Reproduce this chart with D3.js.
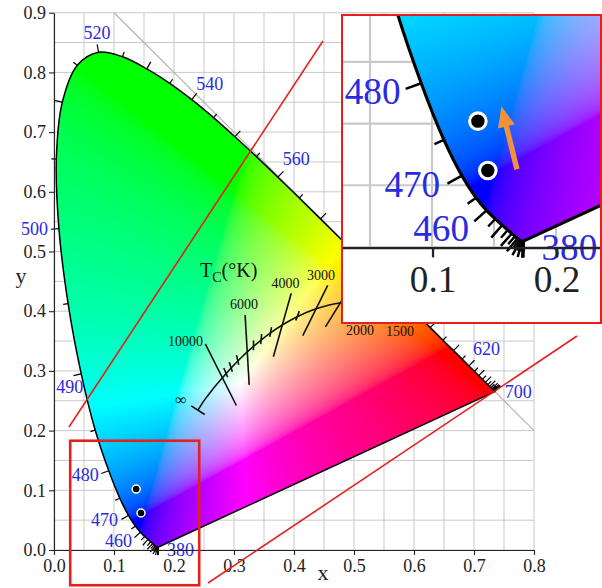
<!DOCTYPE html>
<html>
<head>
<meta charset="utf-8">
<script src="https://cdn.jsdelivr.net/npm/d3@7"></script>
<style>
  html, body { margin: 0; padding: 0; background: #fff; }
  svg { display: block; }
  text { font-family: "Liberation Serif", "Times New Roman", serif; }
</style>
</head>
<body>
<svg id="chart" width="602" height="588"></svg>
<script>
// CIE 1931 2° spectral locus, 5 nm steps
const wavelengths = [380,385,390,395,400,405,410,415,420,425,430,435,440,445,450,455,460,465,470,475,
  480,485,490,495,500,505,510,515,520,525,530,535,540,545,550,555,560,565,570,575,
  580,585,590,595,600,605,610,615,620,625,630,635,640,645,650,655,660,665,670,675,
  680,685,690,695,700];
const locusX = [0.1741,0.1740,0.1738,0.1736,0.1733,0.1730,0.1726,0.1721,0.1714,0.1703,0.1689,0.1669,0.1644,0.1611,0.1566,0.1510,0.1440,0.1355,0.1241,0.1096,
  0.0913,0.0687,0.0454,0.0235,0.0082,0.0039,0.0139,0.0389,0.0743,0.1142,0.1547,0.1929,0.2296,0.2658,0.3016,0.3373,0.3731,0.4087,0.4441,0.4788,
  0.5125,0.5448,0.5752,0.6029,0.6270,0.6482,0.6658,0.6801,0.6915,0.7006,0.7079,0.7140,0.7190,0.7230,0.7260,0.7283,0.7300,0.7311,0.7320,0.7327,
  0.7334,0.7340,0.7344,0.7346,0.7347];
const locusY = [0.0050,0.0050,0.0049,0.0049,0.0048,0.0048,0.0048,0.0048,0.0051,0.0058,0.0069,0.0086,0.0109,0.0138,0.0177,0.0227,0.0297,0.0399,0.0578,0.0868,
  0.1327,0.2007,0.2950,0.4127,0.5384,0.6548,0.7502,0.8120,0.8338,0.8262,0.8059,0.7816,0.7543,0.7243,0.6923,0.6589,0.6245,0.5896,0.5547,0.5202,
  0.4866,0.4544,0.4242,0.3965,0.3725,0.3514,0.3340,0.3197,0.3083,0.2993,0.2920,0.2859,0.2809,0.2770,0.2740,0.2717,0.2700,0.2689,0.2680,0.2673,
  0.2666,0.2660,0.2656,0.2654,0.2653];
const labeledWavelengths = [380,460,470,480,490,500,520,540,560,580,600,620,700];

// Planckian locus (colour temperature in K)
const planckT = [1500,2000,2500,3000,3500,4000,4500,5000,5500,6000,6500,7000,8000,9000,10000,12000,15000,20000,30000,Infinity];
const planckX = [0.5857,0.5267,0.4770,0.4369,0.4053,0.3805,0.3608,0.3451,0.3325,0.3221,0.3135,0.3064,0.2952,0.2869,0.2807,0.2718,0.2637,0.2565,0.2501,0.2399];
const planckY = [0.3931,0.4133,0.4137,0.4041,0.3907,0.3768,0.3636,0.3516,0.3411,0.3318,0.3237,0.3166,0.3048,0.2956,0.2884,0.2779,0.2682,0.2589,0.2502,0.2342];
const isothermT = [10000,6000,4000,3000,2500,2000,1500];
const isothermLabels = [10000,6000,4000,3000,2000,1500];
const minorTickT = [9000,8000,7000,5500,5000,4500,3500];

// measured sample points
const sampleX = [0.137, 0.145];
const sampleY = [0.102, 0.062];

// annotation lines (x1, y1, x2, y2)
const redLineX1 = [0.025, 0.2567];
const redLineY1 = [0.206, -0.0553];
const redLineX2 = [0.4483, 0.8717];
const redLineY2 = [0.8526, 0.3585];

// magnified window [x0, x1, y0, y1] and shift arrow [x tail, y tail, x head, y head]
const zoomWindow = [0.027, 0.242, -0.059, 0.183];
const shiftArrow = [0.1685, 0.063, 0.156, 0.114];

const xTicks = [0, 0.1, 0.2, 0.3, 0.4, 0.5, 0.6, 0.7, 0.8];
const yTicks = [0, 0.1, 0.2, 0.3, 0.4, 0.5, 0.6, 0.7, 0.8, 0.9];
const gridStep = 0.05;

// ---------------------------------------------------------------
const svg = d3.select('#chart');
const xs = d3.scaleLinear().domain([0, 0.8]).range([54, 534]);
const ys = d3.scaleLinear().domain([0, 0.9]).range([550, 12.7]);

const BLUE = '#2a2ae0';
const RED = '#e3201c';

const locus = wavelengths.map((w, i) => ({ w, x: locusX[i], y: locusY[i] }));
const locusPath = d3.line().x(d => xs(d.x)).y(d => ys(d.y)).curve(d3.curveCatmullRom.alpha(0.5))(locus) + 'Z';

const defs = svg.append('defs');
defs.append('clipPath').attr('id', 'gamutClip')
  .attr('clipPathUnits', 'userSpaceOnUse')
  .append('path').attr('d', locusPath);

// --- chromaticity colour field ---------------------------------
function xyToRGB(x, y) {
  const X = x / y, Y = 1, Z = (1 - x - y) / y;
  let r = 3.2406 * X - 1.5372 * Y - 0.4986 * Z;
  let g = -0.9689 * X + 1.8758 * Y + 0.0415 * Z;
  let b = 0.0557 * X - 0.2040 * Y + 1.0570 * Z;
  // channel balance of the display palette
  r = Math.max(0, r * 1.05);
  g = Math.max(0, g * 1.65);
  b = Math.max(0, b);
  const m = Math.max(r, g, b) || 1;
  const enc = c => {
    c /= m;
    return c <= 0.0031308 ? 12.92 * c : 1.055 * Math.pow(c, 1 / 2.4) - 0.055;
  };
  return [enc(r), enc(g), enc(b)];
}

const RES = 1000;
const cw = Math.round(0.8 * RES), ch = Math.round(0.9 * RES);
const canvas = document.createElement('canvas');
canvas.width = cw; canvas.height = ch;
const ctx = canvas.getContext('2d');
const imgData = ctx.createImageData(cw, ch);
for (let j = 0; j < ch; j++) {
  const y = 0.9 - (j + 0.5) / RES;
  if (y <= 0.001) continue;
  for (let i = 0; i < cw; i++) {
    const x = (i + 0.5) / RES;
    if (x + y > 1.02) continue;
    const [r, g, b] = xyToRGB(x, y);
    const k = (j * cw + i) * 4;
    imgData.data[k] = Math.round(r * 255);
    imgData.data[k + 1] = Math.round(g * 255);
    imgData.data[k + 2] = Math.round(b * 255);
    imgData.data[k + 3] = 255;
  }
}
ctx.putImageData(imgData, 0, 0);
const gamutURL = canvas.toDataURL();

// --- label layout around the spectral locus ---------------------
const wlLabelLayout = {
  380: { anchor: 'start', dx: 8.5, dy: 3 },
  460: { anchor: 'end', dx: -8.5, dy: 9 },
  470: { anchor: 'end', dx: -10.5, dy: 4.5 },
  480: { anchor: 'end', dx: -10, dy: 4 },
  490: { anchor: 'end', dx: 2, dy: 13 },
  500: { anchor: 'end', dx: -11, dy: 0 },
  520: { anchor: 'middle', dx: -1.5, dy: -19 },
  540: { anchor: 'middle', dx: 18, dy: -16 },
  560: { anchor: 'start', dx: 5, dy: -18 },
  580: { anchor: 'start', dx: 8, dy: -14 },
  600: { anchor: 'start', dx: 6, dy: -16 },
  620: { anchor: 'start', dx: 4, dy: -17 },
  700: { anchor: 'start', dx: 10, dy: 0 }
};
// isotherm half lengths (px) and label placement relative to the crossing
const isoLayout = {
  10000: { up: 38, down: 31, anchor: 'end', dx: -19.4, dy: -36.8 },
  6000:  { up: 37, down: 33, anchor: 'middle', dx: -3.3, dy: -47.9 },
  4000:  { up: 33, down: 33, anchor: 'middle', dx: 3.2, dy: -42 },
  3000:  { up: 26, down: 30, anchor: 'middle', dx: 4.9, dy: -32.8 },
  2500:  { up: 28, down: 28 },
  2000:  { up: 28, down: 15, anchor: 'middle', dx: -10, dy: 27.7 },
  1500:  { up: 28, down: 6, anchor: 'middle', dx: -5.4, dy: 15.7 }
};

// CIE 1960 UCS helpers: isotherms are normal to the locus in (u, v)
function toUV(x, y) { const d = -2 * x + 12 * y + 3; return [4 * x / d, 6 * y / d]; }
function fromUV(u, v) { const d = 2 * u - 8 * v + 4; return [3 * u / d, 2 * v / d]; }
function isoDirection(i) {
  const n = planckT.length;
  const a = Math.max(0, i - 1), b = Math.min(n - 1, i + 1);
  const [u0, v0] = toUV(planckX[a], planckY[a]);
  const [u1, v1] = toUV(planckX[b], planckY[b]);
  let tu = u1 - u0, tv = v1 - v0;
  const L = Math.hypot(tu, tv); tu /= L; tv /= L;
  const [uc, vc] = toUV(planckX[i], planckY[i]);
  const [x2, y2] = fromUV(uc - tv * 1e-3, vc + tu * 1e-3);
  let dx = xs(x2) - xs(planckX[i]), dy = ys(y2) - ys(planckY[i]);
  const l = Math.hypot(dx, dy); dx /= l; dy /= l;
  if (dy > 0) { dx = -dx; dy = -dy; }
  return [dx, dy];
}

// --- the diagram itself (drawn twice: main view and magnified view) ---
function drawDiagram(g) {
  // grid
  const grid = g.append('g').attr('stroke', '#c9c9c9').attr('stroke-width', 1);
  d3.range(0, 0.8 + 1e-9, gridStep).forEach(v => {
    grid.append('line').attr('x1', xs(v)).attr('x2', xs(v)).attr('y1', ys(0)).attr('y2', ys(0.9));
  });
  d3.range(0, 0.9 + 1e-9, gridStep).forEach(v => {
    grid.append('line').attr('x1', xs(0)).attr('x2', xs(0.8)).attr('y1', ys(v)).attr('y2', ys(v));
  });
  // x + y = 1
  g.append('line').attr('x1', xs(0.1)).attr('y1', ys(0.9)).attr('x2', xs(0.8)).attr('y2', ys(0.2))
    .attr('stroke', '#b4b4b4').attr('stroke-width', 1.2);

  // colour field clipped to the locus
  g.append('image').attr('href', gamutURL)
    .attr('x', xs(0)).attr('y', ys(0.9))
    .attr('width', xs(0.8) - xs(0)).attr('height', ys(0) - ys(0.9))
    .attr('preserveAspectRatio', 'none')
    .attr('clip-path', 'url(#gamutClip)');

  g.append('path').attr('d', locusPath).attr('fill', 'none')
    .attr('stroke', '#000').attr('stroke-width', 1.5).attr('stroke-linejoin', 'round');

  // wavelength ticks, normal to the locus and pointing outward
  const pts = locus.map(d => [xs(d.x), ys(d.y)]);
  const n = pts.length;
  const tickG = g.append('g').attr('stroke', '#000').attr('stroke-width', 1.2);
  const normals = pts.map((p, i) => {
    let a = Math.max(0, i - 1), b = Math.min(n - 1, i + 1);
    while (Math.hypot(pts[b][0] - pts[a][0], pts[b][1] - pts[a][1]) < 1.5 && (a > 0 || b < n - 1)) {
      if (a > 0) a--;
      if (b < n - 1) b++;
    }
    let tx = pts[b][0] - pts[a][0], ty = pts[b][1] - pts[a][1];
    const l = Math.hypot(tx, ty); tx /= l; ty /= l;
    return [ty, -tx];
  });
  locus.forEach((d, i) => {
    const len = d.w % 10 === 0 ? 8 : 5;
    const [nx, ny] = normals[i];
    tickG.append('line')
      .attr('x1', pts[i][0]).attr('y1', pts[i][1])
      .attr('x2', pts[i][0] + nx * len).attr('y2', pts[i][1] + ny * len);
  });
  labeledWavelengths.forEach(w => {
    const i = wavelengths.indexOf(w);
    const lay = wlLabelLayout[w];
    g.append('text').text(w)
      .attr('x', pts[i][0] + lay.dx).attr('y', pts[i][1] + lay.dy)
      .attr('text-anchor', lay.anchor).attr('dominant-baseline', 'central')
      .attr('font-size', 18).attr('fill', BLUE);
  });

  // axes
  const ax = g.append('g').attr('transform', `translate(0,${ys(0)})`)
    .call(d3.axisBottom(xs).tickValues(xTicks).tickFormat(d3.format('.1f')).tickSize(5).tickSizeOuter(0).tickPadding(4));
  const ay = g.append('g').attr('transform', `translate(${xs(0)},0)`)
    .call(d3.axisLeft(ys).tickValues(yTicks).tickFormat(d3.format('.1f')).tickSize(5).tickSizeOuter(0).tickPadding(3));
  [ax, ay].forEach(a => {
    a.selectAll('text').attr('font-family', '"Liberation Serif", "Times New Roman", serif')
      .attr('font-size', 18).attr('fill', '#222');
    a.selectAll('path, line').attr('stroke', '#222').attr('stroke-width', 1.1);
  });
  g.append('text').text('x').attr('x', 323).attr('y', 580)
    .attr('text-anchor', 'middle').attr('font-size', 22).attr('fill', '#222');
  g.append('text').text('y').attr('x', 21).attr('y', 283)
    .attr('text-anchor', 'middle').attr('font-size', 22).attr('fill', '#222');

  // Planckian locus
  const pl = planckT.map((t, i) => ({ t, x: planckX[i], y: planckY[i] }));
  const pg = g.append('g').attr('stroke', '#111').attr('stroke-width', 1.6).attr('fill', 'none');
  pg.append('path').attr('d', d3.line().x(d => xs(d.x)).y(d => ys(d.y)).curve(d3.curveCatmullRom)(pl));
  isothermT.forEach(t => {
    const i = planckT.indexOf(t);
    const [dx, dy] = isoDirection(i);
    const lay = isoLayout[t];
    const cx = xs(planckX[i]), cy = ys(planckY[i]);
    pg.append('line')
      .attr('x1', cx + dx * lay.up).attr('y1', cy + dy * lay.up)
      .attr('x2', cx - dx * lay.down).attr('y2', cy - dy * lay.down);
    if (isothermLabels.includes(t)) {
      g.append('text').text(t).attr('x', cx + lay.dx).attr('y', cy + lay.dy)
        .attr('text-anchor', lay.anchor).attr('dominant-baseline', 'central')
        .attr('font-size', 14).attr('fill', '#111');
    }
  });
  minorTickT.forEach(t => {
    const i = planckT.indexOf(t);
    const [dx, dy] = isoDirection(i);
    const cx = xs(planckX[i]), cy = ys(planckY[i]);
    pg.append('line')
      .attr('x1', cx + dx * 6).attr('y1', cy + dy * 6)
      .attr('x2', cx - dx * 4).attr('y2', cy - dy * 4);
  });
  // end cap at infinite temperature
  {
    const k = planckT.length - 1;
    const ex = xs(planckX[k]), ey = ys(planckY[k]);
    let tx = ex - xs(planckX[k - 1]), ty = ey - ys(planckY[k - 1]);
    const l = Math.hypot(tx, ty); tx /= l; ty /= l;
    pg.append('line')
      .attr('x1', ex - ty * 8).attr('y1', ey + tx * 8)
      .attr('x2', ex + ty * 8).attr('y2', ey - tx * 8);
    g.append('text').text('∞').attr('x', ex - 17).attr('y', ey - 11)
      .attr('text-anchor', 'middle').attr('dominant-baseline', 'central')
      .attr('font-size', 16).attr('fill', '#111');
  }
  const tl = g.append('text').attr('x', xs(0.2433)).attr('y', ys(0.457))
    .attr('font-size', 20).attr('fill', '#111');
  tl.append('tspan').text('T');
  tl.append('tspan').text('C').attr('font-size', 14).attr('dy', 5);
  tl.append('tspan').text('(°K)').attr('dy', -5);

  // sample points
  g.append('g').selectAll('circle').data(sampleX.map((x, i) => [x, sampleY[i]])).join('circle')
    .attr('cx', d => xs(d[0])).attr('cy', d => ys(d[1])).attr('r', 4)
    .attr('fill', '#000').attr('stroke', '#fff').attr('stroke-width', 1.5);
}

// main view
const mainG = svg.append('g');
drawDiagram(mainG);

// annotation lines
svg.append('g').selectAll('line').data(redLineX1.map((_, i) => i)).join('line')
  .attr('x1', i => xs(redLineX1[i])).attr('y1', i => ys(redLineY1[i]))
  .attr('x2', i => xs(redLineX2[i])).attr('y2', i => ys(redLineY2[i]))
  .attr('stroke', RED).attr('stroke-width', 1.6);

// window that is shown magnified
svg.append('rect')
  .attr('x', xs(zoomWindow[0])).attr('y', ys(zoomWindow[3]))
  .attr('width', xs(zoomWindow[1]) - xs(zoomWindow[0]))
  .attr('height', ys(zoomWindow[2]) - ys(zoomWindow[3]))
  .attr('fill', 'none').attr('stroke', RED).attr('stroke-width', 2.6);

// magnified view
const inset = { x: 342, y: 15, w: 259, h: 308, k: 2.067, ax: 432, ay: 247 };
defs.append('clipPath').attr('id', 'insetClip')
  .append('rect').attr('x', inset.x).attr('y', inset.y).attr('width', inset.w).attr('height', inset.h);
svg.append('rect').attr('x', inset.x).attr('y', inset.y).attr('width', inset.w).attr('height', inset.h)
  .attr('fill', '#fff');
const tx = inset.ax - inset.k * xs(0.1), ty = inset.ay - inset.k * ys(0);
const zoomed = svg.append('g').attr('clip-path', 'url(#insetClip)')
  .append('g').attr('transform', `translate(${tx},${ty}) scale(${inset.k})`);
drawDiagram(zoomed);
// drop magnified texts that fall wholly outside the visible window
const svgBox = svg.node().getBoundingClientRect();
zoomed.selectAll('text').each(function () {
  const b = this.getBoundingClientRect();
  const x0 = b.left - svgBox.left, x1 = b.right - svgBox.left;
  const y0 = b.top - svgBox.top, y1 = b.bottom - svgBox.top;
  if (x1 < inset.x || x0 > inset.x + inset.w || y1 < inset.y || y0 > inset.y + inset.h) this.remove();
});

// shift arrow
{
  const [x0, y0, x1, y1] = shiftArrow;
  const p0 = [xs(x0), ys(y0)], p1 = [xs(x1), ys(y1)];
  let ux = p1[0] - p0[0], uy = p1[1] - p0[1];
  const L = Math.hypot(ux, uy); ux /= L; uy /= L;
  const headLen = 10, headW = 4.2;
  const base = [p1[0] - ux * headLen, p1[1] - uy * headLen];
  zoomed.append('line').attr('x1', p0[0]).attr('y1', p0[1]).attr('x2', base[0] + ux).attr('y2', base[1] + uy)
    .attr('stroke', '#f0913c').attr('stroke-width', 2.6);
  zoomed.append('path')
    .attr('d', `M${p1[0]},${p1[1]}L${base[0] - uy * headW},${base[1] + ux * headW}L${base[0] + uy * headW},${base[1] - ux * headW}Z`)
    .attr('fill', '#f0913c');
}
svg.append('rect').attr('x', inset.x).attr('y', inset.y).attr('width', inset.w).attr('height', inset.h)
  .attr('fill', 'none').attr('stroke', RED).attr('stroke-width', 2);
</script>
</body>
</html>
